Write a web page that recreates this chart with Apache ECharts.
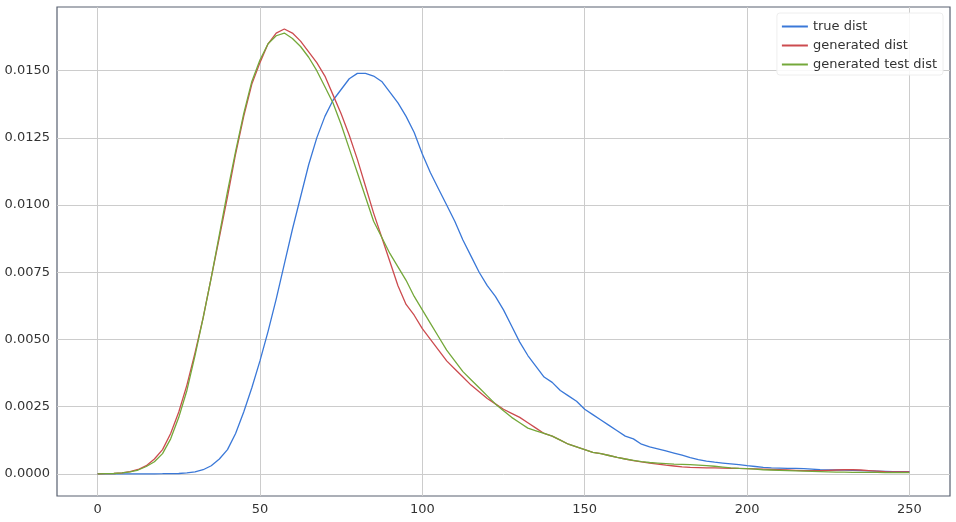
<!DOCTYPE html>
<html><head><meta charset="utf-8">
<script src="https://cdn.jsdelivr.net/npm/echarts@6/dist/echarts.min.js"></script>
<style>html,body{margin:0;padding:0;background:#fff}#c{width:956px;height:522px}</style>
</head><body><div id="c"></div>
<script>
const xValues = [0,2.5,5,7.5,10,12.5,15,17.5,20,22.5,25,27.5,30,32.5,35,37.5,40,42.5,45,47.5,50,52.5,55,57.5,60,62.5,65,67.5,70,72.5,75,77.5,80,82.5,85,87.5,90,92.5,95,97.5,100,102.5,105,107.5,110,112.5,115,117.5,120,122.5,125,127.5,130,132.5,135,137.5,140,142.5,145,147.5,150,152.5,155,157.5,160,162.5,165,167.5,170,172.5,175,177.5,180,182.5,185,187.5,190,192.5,195,197.5,200,202.5,205,207.5,210,212.5,215,217.5,220,222.5,225,227.5,230,232.5,235,237.5,240,242.5,245,247.5,250];
const trueDist = [0,0,0,0,0,0,0,0,0.000002,0.000005,0.00001,0.00003,0.00007,0.00015,0.0003,0.00055,0.0009,0.0015,0.0023,0.0032,0.0042,0.0053,0.0065,0.0078,0.0091,0.0103,0.0115,0.0125,0.0133,0.0139,0.0143,0.0147,0.0149,0.0149,0.0148,0.0146,0.0142,0.0138,0.0133,0.0127,0.0119,0.0112,0.0106,0.0100,0.0094,0.0087,0.0081,0.0075,0.0070,0.0066,0.0061,0.0055,0.0049,0.0044,0.0040,0.0036,0.0034,0.0031,0.0029,0.0027,0.0024,0.0022,0.0020,0.0018,0.0016,0.0014,0.0013,0.0011,0.0010,0.00093,0.00085,0.00077,0.00069,0.0006,0.00053,0.00047,0.00043,0.0004,0.00037,0.00034,0.0003,0.00027,0.00024,0.00022,0.00021,0.0002,0.0002,0.00019,0.00017,0.00015,0.00014,0.00014,0.00014,0.00013,0.00012,0.00011,0.0001,0.00009,0.00008,0.00008,0.00008];
const generatedDist = [0,0.000005,0.00001,0.00003,0.00008,0.00016,0.0003,0.00055,0.0009,0.0015,0.0023,0.0033,0.0045,0.0058,0.0073,0.0088,0.0103,0.0119,0.0133,0.0145,0.0153,0.0160,0.0164,0.01655,0.0164,0.0161,0.0157,0.0153,0.0148,0.0141,0.0134,0.0126,0.0117,0.0107,0.0097,0.0088,0.0079,0.0070,0.0063,0.0059,0.0054,0.0050,0.0046,0.0042,0.0039,0.0036,0.0033,0.00305,0.0028,0.0026,0.0024,0.00225,0.0021,0.0019,0.0017,0.0015,0.0014,0.00125,0.0011,0.0010,0.0009,0.0008,0.00075,0.00068,0.00061,0.00055,0.00049,0.00044,0.0004,0.00036,0.00032,0.00029,0.00026,0.00024,0.00023,0.00022,0.00022,0.00021,0.0002,0.0002,0.00019,0.00018,0.00017,0.00016,0.00015,0.00014,0.00013,0.00012,0.00012,0.00012,0.00013,0.00014,0.00015,0.00015,0.00014,0.00012,0.0001,0.00008,0.00007,0.00007,0.00007];
const generatedTestDist = [0,0.000005,0.00001,0.00003,0.00007,0.00014,0.00027,0.00045,0.00075,0.0013,0.0021,0.0031,0.0044,0.0058,0.0073,0.0089,0.0105,0.0120,0.0134,0.0146,0.0154,0.0160,0.0163,0.0164,0.0162,0.0159,0.0155,0.0150,0.0144,0.0138,0.0130,0.0121,0.0112,0.0103,0.0094,0.0088,0.0082,0.0077,0.0072,0.0066,0.0061,0.0056,0.0051,0.0046,0.0042,0.0038,0.0035,0.0032,0.0029,0.0026,0.00235,0.0021,0.0019,0.0017,0.0016,0.0015,0.0014,0.00125,0.0011,0.0010,0.0009,0.0008,0.00075,0.00068,0.00061,0.00055,0.0005,0.00045,0.00042,0.0004,0.00038,0.00036,0.00035,0.00034,0.00032,0.0003,0.00028,0.00025,0.00022,0.0002,0.00019,0.00017,0.00015,0.00014,0.00013,0.00012,0.00011,0.0001,0.00009,0.00008,0.00007,0.00006,0.00006,0.00005,0.00005,0.00005,0.00005,0.00004,0.00004,0.00004,0.00004];
const xTicks = [0,50,100,150,200,250];
const yTicks = [0,0.0025,0.005,0.0075,0.01,0.0125,0.015];
const seriesNames = ['true dist','generated dist','generated test dist'];

const colors = ['#3a78d8','#cc4b4f','#74a83a'];
const font = 'DejaVu Sans';
const pair = arr => xValues.map((x,i)=>[x,arr[i]]);
const chart = echarts.init(document.getElementById('c'), null, {renderer:'canvas'});
chart.setOption({
  animation:false,
  backgroundColor:'#fff',
  grid:{left:57,top:7,right:6,bottom:26,containLabel:false,show:true,borderColor:'#586070',borderWidth:1.2,backgroundColor:'transparent'},
  legend:{
    data:seriesNames, orient:'vertical', right:13, top:13,
    icon:'rect', itemWidth:26, itemHeight:2, itemGap:6,
    textStyle:{fontFamily:font,fontSize:13,color:'#333'},
    backgroundColor:'rgba(255,255,255,0.85)', borderColor:'#eeeeee', borderWidth:1, borderRadius:3,
    padding:[7,6,4,5]
  },
  xAxis:{
    type:'value', min:-12.5, max:262.5,
    axisLine:{show:false}, axisTick:{show:false, customValues:xTicks},
    splitLine:{show:true,lineStyle:{color:'#cccccc',width:1}},
    axisLabel:{customValues:xTicks, fontFamily:font, fontSize:13, color:'#333', margin:7}
  },
  yAxis:{
    type:'value', min:-0.000827, max:0.01737,
    axisLine:{show:false}, axisTick:{show:false, customValues:yTicks},
    splitLine:{show:true,lineStyle:{color:'#cccccc',width:1}},
    axisLabel:{customValues:yTicks, fontFamily:font, fontSize:13, color:'#333', margin:7,
      formatter:v=>v.toFixed(4)}
  },
  series:seriesNames.map((n,i)=>({
    name:n, type:'line', showSymbol:false, symbol:'none',
    data:pair([trueDist,generatedDist,generatedTestDist][i]),
    lineStyle:{color:colors[i],width:1.3}, itemStyle:{color:colors[i]}, z:2+i
  }))
});
</script></body></html>
